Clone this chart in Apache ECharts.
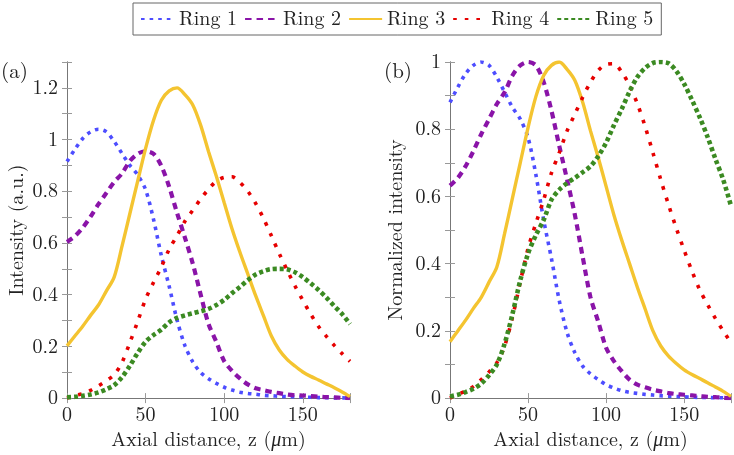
<!DOCTYPE html>
<html>
<head>
<meta charset="utf-8">
<script src="https://cdn.jsdelivr.net/npm/echarts@6/dist/echarts.min.js"></script>
<style>html,body{margin:0;padding:0;background:#fff}#c{width:734px;height:455px}</style>
</head>
<body>
<div id="c"></div>
<script>
var seriesNames = ['Ring 1', 'Ring 2', 'Ring 3', 'Ring 4', 'Ring 5'];
var z = [0,5,10,15,20,25,30,35,40,45,50,55,60,65,70,75,80,85,90,95,100,105,110,115,120,125,130,135,140,145,150,155,160,165,170,175,180];

// Panel (a): intensity (a.u.)
var ring1 = [0.915,0.962,1.004,1.03,1.04,1.03,0.993,0.946,0.9,0.863,0.806,0.692,0.551,0.432,0.302,0.203,0.14,0.099,0.075,0.057,0.042,0.031,0.023,0.018,0.015,0.011,0.009,0.007,0.006,0.005,0.004,0.003,0.002,0.002,0.001,0.001,0];
var ring2 = [0.604,0.626,0.659,0.702,0.75,0.793,0.836,0.869,0.917,0.945,0.955,0.945,0.898,0.817,0.716,0.621,0.52,0.401,0.287,0.217,0.143,0.105,0.076,0.053,0.038,0.031,0.024,0.019,0.014,0.011,0.01,0.008,0.006,0.004,0.003,0.001,0];
var ring3 = [0.202,0.24,0.278,0.32,0.36,0.414,0.468,0.588,0.714,0.84,0.966,1.074,1.152,1.188,1.2,1.174,1.134,1.056,0.954,0.858,0.756,0.654,0.564,0.48,0.396,0.318,0.24,0.186,0.15,0.124,0.101,0.084,0.07,0.055,0.04,0.024,0.006];
var ring4 = [0,0.01,0.017,0.03,0.047,0.067,0.09,0.138,0.215,0.297,0.383,0.447,0.507,0.576,0.628,0.684,0.727,0.77,0.808,0.839,0.854,0.856,0.834,0.8,0.753,0.695,0.628,0.559,0.495,0.434,0.378,0.325,0.277,0.239,0.204,0.172,0.142];
var ring5 = [0.003,0.005,0.009,0.014,0.022,0.034,0.05,0.081,0.125,0.175,0.218,0.244,0.265,0.293,0.31,0.32,0.328,0.336,0.345,0.36,0.38,0.406,0.43,0.456,0.478,0.491,0.499,0.5,0.498,0.487,0.468,0.444,0.418,0.389,0.356,0.325,0.286];

// Panel (b): normalized intensity
var norm1 = [0.88,0.925,0.965,0.99,1.0,0.99,0.955,0.91,0.865,0.83,0.775,0.665,0.53,0.415,0.29,0.195,0.135,0.095,0.072,0.055,0.04,0.03,0.022,0.017,0.014,0.011,0.009,0.007,0.006,0.005,0.004,0.003,0.002,0.002,0.001,0.001,0];
var norm2 = [0.632,0.655,0.69,0.735,0.785,0.83,0.875,0.91,0.96,0.99,1.0,0.99,0.94,0.855,0.75,0.65,0.545,0.42,0.3,0.227,0.15,0.11,0.08,0.055,0.04,0.032,0.025,0.02,0.015,0.012,0.01,0.008,0.006,0.004,0.003,0.001,0];
var norm3 = [0.168,0.2,0.232,0.267,0.3,0.345,0.39,0.49,0.595,0.7,0.805,0.897,0.96,0.99,1.0,0.978,0.945,0.88,0.795,0.715,0.63,0.545,0.47,0.4,0.33,0.265,0.2,0.155,0.125,0.103,0.084,0.07,0.058,0.046,0.033,0.02,0.005];
var norm4 = [0,0.012,0.02,0.035,0.055,0.078,0.105,0.155,0.24,0.345,0.445,0.52,0.59,0.67,0.73,0.795,0.845,0.895,0.94,0.975,0.993,0.995,0.97,0.93,0.876,0.808,0.73,0.65,0.575,0.505,0.44,0.378,0.322,0.278,0.237,0.2,0.165];
var norm5 = [0.005,0.01,0.018,0.028,0.043,0.068,0.1,0.162,0.25,0.35,0.43,0.485,0.53,0.59,0.62,0.64,0.655,0.672,0.69,0.72,0.76,0.812,0.86,0.912,0.955,0.982,0.997,1.0,0.996,0.973,0.935,0.887,0.835,0.777,0.712,0.65,0.572];

var xTicks = [0, 50, 100, 150];
var yTicksA = [0, 0.2, 0.4, 0.6, 0.8, 1, 1.2];
var yTicksB = [0, 0.2, 0.4, 0.6, 0.8, 1];

var FONT = "'Latin Modern Roman', 'Liberation Serif', serif";
var FS = 20;
var colors = ['#4d4dff', '#8a14a8', '#f4c430', '#e60000', '#3b8a22'];
var styles = [
  {width: 3.6, type: [3.6, 5]},
  {width: 4.2, type: [6.5, 5]},
  {width: 3.4, type: 'solid'},
  {width: 3.6, type: [3.6, 8]},
  {width: 4.6, type: [4, 3]}
];

function pairs(vals) { return z.map(function (x, i) { return [x, vals[i]]; }); }

function fmtY(list) {
  return function (v) {
    for (var i = 0; i < list.length; i++) if (Math.abs(list[i] - v) < 1e-6) return String(list[i]);
    return '';
  };
}
function fmtX(v) {
  for (var i = 0; i < xTicks.length; i++) if (Math.abs(xTicks[i] - v) < 1e-6) return String(xTicks[i]);
  return '';
}

var tickStyle = {show: true, inside: true, length: 5, lineStyle: {color: '#999', width: 1}};
var lineStyleAx = {show: true, lineStyle: {color: '#777', width: 1}};
var labelStyle = {color: '#222', fontFamily: FONT, fontSize: FS};

function xAx(grid, pos, showLabel) {
  return {
    type: 'value', gridIndex: grid, position: pos, min: 0, max: 180, interval: 50,
    axisLine: lineStyleAx, axisTick: tickStyle, splitLine: {show: false},
    axisLabel: Object.assign({show: showLabel, formatter: fmtX, margin: 7}, labelStyle),
    name: showLabel ? '{n|Axial distance, z (}{i|\u03bc}{n|m)}' : '',
    nameLocation: 'middle', nameGap: 28,
    nameTextStyle: {rich: {
      n: {fontFamily: FONT, fontSize: FS, color: '#222'},
      i: {fontFamily: FONT, fontSize: FS, color: '#222', fontStyle: 'italic'}
    }}
  };
}
function yAx(grid, pos, showLabel, max, list, name, gap) {
  return {
    type: 'value', gridIndex: grid, position: pos, min: 0, max: max, interval: 0.1,
    axisLine: lineStyleAx, axisTick: tickStyle, splitLine: {show: false},
    axisLabel: Object.assign({show: showLabel, formatter: fmtY(list), margin: 9}, labelStyle),
    name: showLabel ? name : '', nameLocation: 'middle', nameGap: gap, nameRotate: 90,
    nameTextStyle: {fontFamily: FONT, fontSize: FS, color: '#222'}
  };
}

var series = [];
var setsA = [ring1, ring2, ring3, ring4, ring5];
var setsB = [norm1, norm2, norm3, norm4, norm5];
for (var k = 0; k < 5; k++) {
  series.push({
    name: seriesNames[k], type: 'line', xAxisIndex: 0, yAxisIndex: 0,
    data: pairs(setsA[k]), smooth: 0.3, symbol: 'none', showSymbol: false,
    lineStyle: {color: colors[k], width: styles[k].width, type: styles[k].type, cap: 'butt'},
    itemStyle: {color: colors[k]}, z: 2
  });
  series.push({
    name: seriesNames[k], type: 'line', xAxisIndex: 2, yAxisIndex: 2,
    data: pairs(setsB[k]), smooth: 0.3, symbol: 'none', showSymbol: false,
    lineStyle: {color: colors[k], width: styles[k].width, type: styles[k].type, cap: 'butt'},
    itemStyle: {color: colors[k]}, z: 2
  });
}

var chart = echarts.init(document.getElementById('c'), null, {renderer: 'canvas'});
chart.setOption({
  animation: false,
  backgroundColor: '#fff',
  legend: {
    data: seriesNames, left: 133, top: 3, orient: 'horizontal',
    borderColor: '#666', borderWidth: 1, padding: [6, 8, 6, 7],
    itemWidth: 33, itemHeight: 12, itemGap: 7,
    itemStyle: {opacity: 0},
    textStyle: {fontFamily: FONT, fontSize: FS, color: '#222'}
  },
  grid: [
    {left: 67, top: 62, width: 283, height: 338},
    {left: 450, top: 62, width: 282, height: 338}
  ],
  xAxis: [xAx(0, 'bottom', true), xAx(0, 'top', false), xAx(1, 'bottom', true), xAx(1, 'top', false)],
  yAxis: [
    yAx(0, 'left', true, 1.3, yTicksA, 'Intensity (a.u.)', 40),
    yAx(0, 'right', false, 1.3, yTicksA, '', 0),
    yAx(1, 'left', true, 1, yTicksB, 'Normalized intensity', 44),
    yAx(1, 'right', false, 1, yTicksB, '', 0)
  ],
  graphic: [
    {type: 'text', left: 1, top: 61, style: {text: '(a)', fontFamily: FONT, fontSize: 21, fill: '#222'}},
    {type: 'text', left: 384, top: 61, style: {text: '(b)', fontFamily: FONT, fontSize: 21, fill: '#222'}}
  ],
  series: series
});
</script>
</body>
</html>
